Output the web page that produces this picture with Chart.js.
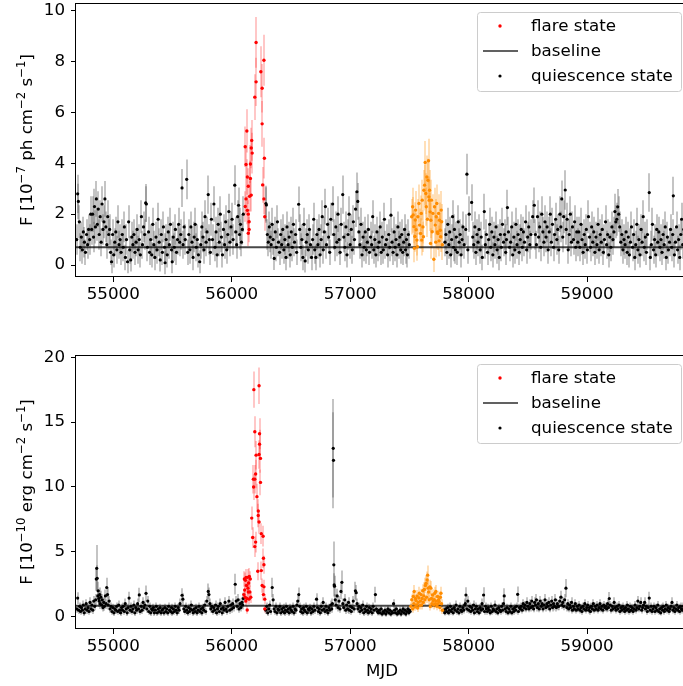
<!DOCTYPE html>
<html><head><meta charset="utf-8">
<script src="https://cdn.jsdelivr.net/npm/chart.js@4.4.0/dist/chart.umd.min.js"></script>
<style>
html,body{margin:0;padding:0;overflow:hidden;background:#fff;width:683px;height:686px}
#wrap{position:relative;width:683px;height:686px;overflow:hidden;background:#fff}
canvas{position:absolute;left:0}
</style></head><body>
<div id="wrap">
<canvas id="c1" width="690" height="310" style="top:0px"></canvas>
<canvas id="c2" width="690" height="346" style="top:340px"></canvas>
</div>
<script>
// ---------- axis ticks ----------
const xTicks = [55000, 56000, 57000, 58000, 59000];
const topYTicks = [0, 2, 4, 6, 8, 10];
const botYTicks = [0, 5, 10, 15, 20];
const topBaseline = 0.70;
const botBaseline = 0.85;

// ---------- TOP PANEL: photon flux ----------
const topMjd = [
54692,54700,54706,54714,54722,54731,54740,54748,54757,54766,
54775,54784,54792,54801,54810,54818,54826,54834,54842,54850,
54858,54866,54874,54882,54890,54898,54906,54914,54922,54930,
54938,54946,54954,54962,54970,54978,54986,54995,55004,55013,
55022,55031,55040,55049,55058,55067,55076,55085,55094,55103,
55112,55121,55130,55139,55148,55157,55166,55175,55184,55193,
55202,55211,55220,55229,55238,55247,55256,55265,55274,55280,
55289,55298,55307,55316,55325,55334,55343,55352,55361,55370,
55379,55388,55397,55406,55415,55424,55433,55438,55447,55456,
55465,55474,55483,55492,55498,55507,55516,55525,55534,55543,
55552,55561,55570,55581,55590,55599,55608,55620,55629,55638,
55647,55656,55665,55674,55683,55692,55701,55710,55719,55730,
55739,55748,55757,55766,55775,55784,55792,55802,55811,55820,
55829,55838,55850,55859,55868,55877,55886,55895,55904,55913,
55922,55931,55940,55949,55958,55967,55976,55985,55994,56003,
56012,56026,56034,56042,56050,56058,56066,56074,56082,56090,
56098,56289,56293,56301,56309,56317,56325,56333,56341,56350,
56359,56368,56377,56386,56395,56404,56413,56422,56431,56440,
56449,56458,56467,56476,56485,56494,56503,56512,56521,56530,
56539,56548,56565,56574,56583,56592,56601,56610,56620,56629,
56638,56647,56656,56665,56674,56683,56692,56701,56710,56719,
56728,56737,56746,56755,56764,56773,56782,56791,56800,56809,
56818,56827,56836,56852,56861,56870,56879,56888,56897,56906,
56915,56924,56937,56946,56955,56964,56973,56982,56991,57000,
57009,57018,57027,57036,57045,57057,57064,57073,57082,57091,
57100,57109,57118,57127,57136,57145,57154,57163,57172,57181,
57190,57199,57208,57217,57226,57235,57244,57253,57262,57271,
57280,57289,57298,57307,57316,57325,57334,57344,57353,57362,
57371,57379,57387,57395,57403,57411,57419,57427,57435,57443,
57451,57459,57467,57475,57483,57491,57499,57800,57808,57816,
57824,57832,57840,57848,57856,57864,57872,57880,57888,57896,
57904,57912,57920,57928,57936,57944,57952,57962,57985,57975,
57993,58004,58025,58034,58043,58052,58061,58070,58079,58088,
58097,58106,58115,58132,58141,58150,58159,58168,58177,58186,
58195,58204,58213,58222,58231,58240,58249,58258,58267,58276,
58285,58294,58303,58312,58319,58327,58336,58345,58354,58363,
58372,58381,58390,58399,58408,58417,58426,58435,58444,58453,
58462,58471,58480,58489,58498,58507,58516,58525,58540,58554,
58563,58572,58581,58590,58599,58608,58617,58626,58635,58644,
58653,58662,58671,58680,58689,58698,58707,58716,58725,58734,
58744,58752,58760,58770,58778,58786,58794,58802,58815,58823,
58831,58840,58849,58858,58867,58876,58885,58894,58903,58912,
58921,58930,58939,58948,58957,58966,58975,58984,58993,59002,
59011,59020,59029,59038,59047,59056,59065,59074,59083,59092,
59101,59110,59119,59128,59137,59146,59155,59164,59173,59182,
59191,59200,59209,59218,59226,59234,59242,59250,59258,59266,
59275,59284,59293,59302,59311,59320,59329,59338,59347,59356,
59365,59374,59383,59392,59401,59410,59419,59428,59437,59446,
59455,59464,59473,59482,59491,59500,59524,59509,59533,59542,
59551,59560,59569,59578,59587,59596,59605,59614,59623,59632,
59641,59650,59659,59668,59677,59686,59695,59704,59727,59713,
59722,59736,59745,59754,59763,59772,59797,59781,59790,59806,
59815,59824,59833,59840,59846,59850,59829
];
const topFlux = [
1.0,2.8,2.5,1.7,0.7,1.1,0.6,1.3,0.9,0.5,
1.2,0.8,1.4,1.0,2.0,1.4,2.0,1.1,2.3,1.5,
2.6,1.6,2.2,1.2,1.9,0.9,2.4,1.4,1.7,2.6,
1.5,0.8,1.9,1.2,1.4,0.5,0.13,1.2,0.4,0.9,
1.3,0.6,1.7,0.8,1.0,0.5,1.2,0.7,1.5,0.3,
1.0,0.13,1.7,0.6,0.2,1.1,0.8,1.2,0.5,0.9,
1.4,0.6,1.0,0.4,1.9,0.8,1.5,1.2,2.44,2.4,
0.7,1.3,0.5,1.0,0.4,1.6,0.8,0.3,1.1,0.6,
1.8,0.9,0.2,1.2,0.5,1.5,0.7,0.09,1.0,0.4,
1.3,0.8,1.6,0.6,0.13,1.1,0.7,1.4,0.5,1.0,
1.6,0.9,1.2,3.03,0.8,1.5,1.0,3.37,0.5,1.2,
0.6,1.5,0.9,0.3,1.1,1.6,0.7,1.0,0.4,0.13,
0.8,1.5,1.1,0.6,1.9,0.9,1.3,2.77,1.0,0.5,
1.8,1.0,2.4,0.7,1.3,0.4,1.6,0.9,2.0,1.1,
0.4,1.4,0.8,1.7,0.6,1.2,2.1,0.9,1.5,1.8,
1.0,3.14,1.3,0.8,1.9,2.35,1.2,1.6,0.9,1.4,
2.0,2.42,2.36,1.2,0.9,1.5,1.1,0.8,1.6,1.0,
0.26,1.3,0.7,1.7,0.9,0.5,1.2,0.8,1.4,0.6,
1.0,0.3,1.5,0.8,1.1,0.4,1.3,0.7,1.6,0.9,
1.2,0.5,2.39,1.4,0.7,1.0,0.3,1.6,0.16,0.9,
1.2,0.6,1.4,0.8,0.3,1.0,1.8,0.6,0.3,1.2,
0.8,1.4,0.4,1.0,1.9,0.6,1.3,2.3,0.8,1.6,
1.1,0.5,1.8,2.4,1.2,0.7,1.5,0.9,2.0,1.0,
0.5,1.6,2.77,1.1,0.7,1.5,0.4,1.2,2.0,0.8,
1.4,0.6,1.7,1.0,2.2,2.88,2.5,1.3,0.8,1.6,
0.4,1.1,0.7,1.3,0.6,0.9,1.4,0.5,1.1,0.8,
1.9,0.6,1.0,0.4,1.3,0.7,0.9,1.5,0.5,1.1,
0.6,1.8,0.8,1.0,0.4,1.2,0.7,1.96,0.9,0.5,
1.3,0.7,1.0,0.4,1.5,0.8,1.1,0.6,1.2,0.5,
0.9,1.4,0.6,1.0,0.4,1.2,0.8,0.9,1.2,0.5,
1.6,0.8,1.3,0.4,1.0,1.9,0.7,1.4,0.6,1.1,
0.5,1.7,0.9,1.2,0.4,1.0,1.5,0.8,3.57,1.4,
0.6,2.0,2.46,1.1,0.8,1.5,0.5,1.2,0.9,1.4,
0.6,1.1,0.3,2.1,0.8,1.2,0.5,1.0,1.6,0.7,
1.3,0.4,1.1,0.8,1.5,0.6,1.0,0.3,1.2,0.7,
1.6,0.9,1.2,0.5,1.0,2.26,1.3,0.7,0.9,1.5,
0.4,1.1,0.6,1.6,0.8,1.2,0.5,1.0,1.4,0.7,
1.3,0.9,1.7,0.6,1.1,1.5,0.8,1.2,1.9,2.35,
1.2,0.8,1.9,1.1,1.5,0.7,2.0,1.3,0.9,1.7,
1.1,1.5,0.6,1.3,2.0,0.9,1.6,0.7,1.2,1.8,
1.0,1.4,0.6,2.0,1.5,2.6,1.1,1.9,2.95,1.4,
1.8,0.6,1.2,2.0,0.9,1.5,1.0,1.7,0.7,1.3,
0.9,1.3,0.7,1.6,1.0,0.5,1.2,0.8,1.4,0.6,
1.9,1.1,0.7,1.5,0.9,1.3,0.5,1.1,0.8,1.6,
0.6,1.2,0.9,1.4,0.5,1.0,1.7,0.8,1.2,0.4,
1.1,0.7,1.5,1.0,1.3,2.1,1.7,1.8,2.29,2.0,
1.5,0.9,1.2,0.6,1.0,0.8,1.3,0.5,1.1,0.4,
0.9,1.5,0.7,1.2,0.3,0.8,1.6,0.6,1.0,0.4,
1.4,0.9,1.9,0.7,1.1,0.5,2.85,1.2,0.3,0.8,
1.6,0.6,1.0,0.4,1.4,0.9,1.3,0.7,1.0,0.5,
1.2,0.8,1.5,0.3,1.1,0.6,0.9,1.4,2.72,0.7,
1.2,0.4,0.9,1.5,0.6,1.0,1.8,0.3,1.2,0.8,
1.4,0.6,1.0,0.5,1.3,0.8,1.1
];
const topErr = [
0.6,0.75,0.7,0.65,0.55,0.6,0.55,0.6,0.6,0.5,
0.6,0.55,0.6,0.6,0.7,0.6,0.7,0.6,0.7,0.65,
0.7,0.65,0.7,0.6,0.65,0.55,0.7,0.6,0.65,0.7,
0.6,0.55,0.65,0.6,0.6,0.5,0.45,0.6,0.5,0.55,
0.6,0.55,0.65,0.55,0.6,0.5,0.6,0.55,0.6,0.5,
0.6,0.45,0.65,0.55,0.45,0.6,0.55,0.6,0.5,0.55,
0.6,0.55,0.6,0.5,0.65,0.55,0.6,0.6,0.75,0.7,
0.55,0.6,0.5,0.6,0.5,0.65,0.55,0.5,0.6,0.55,
0.65,0.55,0.45,0.6,0.5,0.6,0.55,0.45,0.6,0.5,
0.6,0.55,0.65,0.55,0.45,0.6,0.55,0.6,0.5,0.6,
0.65,0.55,0.6,0.75,0.55,0.6,0.6,0.78,0.5,0.6,
0.55,0.6,0.55,0.5,0.6,0.65,0.55,0.6,0.5,0.45,
0.55,0.6,0.6,0.55,0.65,0.55,0.6,0.75,0.6,0.5,
0.65,0.6,0.7,0.55,0.6,0.5,0.65,0.55,0.7,0.6,
0.5,0.6,0.55,0.65,0.55,0.6,0.7,0.55,0.6,0.65,
0.6,0.78,0.6,0.55,0.65,0.7,0.6,0.65,0.55,0.6,
0.7,0.7,0.7,0.6,0.55,0.6,0.6,0.55,0.65,0.6,
0.45,0.6,0.55,0.65,0.55,0.5,0.6,0.55,0.6,0.55,
0.6,0.5,0.6,0.55,0.6,0.5,0.6,0.55,0.65,0.55,
0.6,0.5,0.7,0.6,0.55,0.6,0.5,0.65,0.45,0.55,
0.6,0.55,0.6,0.55,0.5,0.6,0.65,0.55,0.5,0.6,
0.55,0.6,0.5,0.6,0.65,0.55,0.6,0.7,0.55,0.65,
0.6,0.5,0.65,0.7,0.6,0.55,0.6,0.55,0.7,0.6,
0.5,0.65,0.75,0.6,0.55,0.6,0.5,0.6,0.7,0.55,
0.6,0.55,0.65,0.6,0.7,0.76,0.72,0.6,0.55,0.65,
0.5,0.6,0.55,0.6,0.55,0.55,0.6,0.5,0.6,0.55,
0.65,0.55,0.6,0.5,0.6,0.55,0.55,0.6,0.5,0.6,
0.55,0.65,0.55,0.6,0.5,0.6,0.55,0.68,0.55,0.5,
0.6,0.55,0.6,0.5,0.6,0.55,0.6,0.55,0.6,0.5,
0.55,0.6,0.55,0.6,0.5,0.6,0.55,0.55,0.6,0.5,
0.65,0.55,0.6,0.5,0.6,0.65,0.55,0.6,0.55,0.6,
0.5,0.65,0.55,0.6,0.5,0.6,0.6,0.55,0.8,0.6,
0.55,0.7,0.72,0.6,0.55,0.6,0.5,0.6,0.55,0.6,
0.55,0.6,0.5,0.7,0.55,0.6,0.5,0.6,0.65,0.55,
0.6,0.5,0.6,0.55,0.6,0.55,0.6,0.5,0.6,0.55,
0.65,0.55,0.6,0.5,0.6,0.7,0.6,0.55,0.55,0.6,
0.5,0.6,0.55,0.65,0.55,0.6,0.5,0.6,0.6,0.55,
0.6,0.55,0.65,0.55,0.6,0.6,0.55,0.6,0.65,0.7,
0.6,0.55,0.65,0.6,0.6,0.55,0.7,0.6,0.55,0.65,
0.6,0.6,0.55,0.6,0.7,0.55,0.65,0.55,0.6,0.65,
0.6,0.6,0.55,0.7,0.6,0.72,0.6,0.65,0.78,0.6,
0.65,0.55,0.6,0.7,0.55,0.6,0.6,0.65,0.55,0.6,
0.55,0.6,0.55,0.65,0.6,0.5,0.6,0.55,0.6,0.55,
0.65,0.6,0.55,0.6,0.55,0.6,0.5,0.6,0.55,0.65,
0.55,0.6,0.55,0.6,0.5,0.6,0.65,0.55,0.6,0.5,
0.6,0.55,0.6,0.6,0.6,0.7,0.65,0.65,0.7,0.7,
0.6,0.55,0.6,0.55,0.6,0.55,0.6,0.5,0.6,0.5,
0.55,0.6,0.55,0.6,0.5,0.55,0.65,0.55,0.6,0.5,
0.6,0.55,0.65,0.55,0.6,0.5,0.76,0.6,0.5,0.55,
0.65,0.55,0.6,0.5,0.6,0.55,0.6,0.55,0.6,0.5,
0.6,0.55,0.6,0.5,0.6,0.55,0.55,0.6,0.75,0.55,
0.6,0.5,0.55,0.6,0.55,0.6,0.65,0.5,0.6,0.55,
0.6,0.55,0.6,0.5,0.6,0.55,0.6
];
const topFlareMjd  = [56114,56114,56121,56121,56128,56132,56132,56140,56140,56147,56147,56140,56151,56158,56158,56165,56169,56165,56173,56195,56206,56206,56246,56257,56272,56257,56276,56261,56272,56279];
const topFlareFlux = [4.65,2.3,3.95,2.6,5.27,3.46,2.15,3.1,2.0,1.7,1.4,1.25,2.7,3.4,3.97,4.6,4.9,2.75,4.4,6.6,7.2,8.75,7.6,6.95,8.05,5.55,4.2,3.15,2.6,1.9];
const topFlareErr  = [0.8,0.6,0.75,0.6,0.85,0.7,0.55,0.7,0.55,0.5,0.5,0.5,0.6,0.7,0.75,0.8,0.8,0.65,0.8,0.9,0.95,1.0,1.0,0.95,1.0,0.9,0.8,0.7,0.6,0.55];
const topSecondMjd  = [57519,57527,57532,57538,57542,57546,57549,57552,57557,57563,57568,57571,57580,57586,57594,57600,57604,57608,57614,57618,57622,57628,57633,57638,57642,57647,57652,57656,57661,57664,57667,57670,57675,57678,57681,57686,57692,57698,57706,57712,57718,57722,57726,57731,57736,57740,57746,57750,57754,57760,57763,57768,57772,57778];
const topSecondFlux = [1.9,2.29,1.97,1.51,0.66,1.12,1.77,2.16,1.39,0.98,0.72,1.9,2.42,1.57,1.24,2.03,0.98,2.55,1.5,1.11,2.94,3.14,4.03,2.81,2.29,3.46,1.8,3.33,4.1,2.68,2.55,2.94,2.09,0.85,1.76,2.55,1.31,2.03,0.23,2.29,1.57,0.9,1.9,2.42,1.3,1.24,2.03,0.95,1.76,1.37,1.11,2.16,1.7,0.8];
const topSecondErr  = [0.7,0.75,0.7,0.65,0.55,0.6,0.7,0.75,0.65,0.6,0.55,0.7,0.75,0.65,0.6,0.7,0.6,0.8,0.65,0.6,0.8,0.8,0.85,0.8,0.75,0.85,0.7,0.85,0.86,0.8,0.8,0.8,0.75,0.6,0.7,0.8,0.65,0.75,0.5,0.75,0.7,0.6,0.7,0.75,0.65,0.65,0.75,0.6,0.7,0.65,0.6,0.75,0.7,0.6];

// ---------- BOTTOM PANEL: energy flux ----------
const botMjd = [
54692,54700,54708,54716,54724,54732,54740,54748,54756,54764,
54772,54780,54788,54796,54804,54812,54820,54828,54836,54844,
54852,54857,54861,54865,54870,54874,54878,54882,54886,54890,
54896,54902,54908,54914,54920,54926,54934,54940,54945,54952,
54958,54966,54974,54982,54990,54998,55006,55014,55022,55030,
55038,55046,55054,55062,55070,55078,55086,55094,55102,55110,
55118,55126,55134,55142,55150,55158,55166,55174,55182,55190,
55198,55206,55214,55220,55228,55236,55244,55252,55260,55268,
55277,55284,55292,55300,55308,55316,55324,55332,55340,55348,
55356,55364,55372,55380,55388,55396,55404,55412,55420,55428,
55436,55444,55452,55460,55468,55476,55484,55492,55500,55508,
55516,55524,55532,55540,55548,55556,55564,55581,55588,55596,
55604,55612,55620,55628,55636,55644,55652,55660,55668,55676,
55684,55692,55700,55708,55716,55724,55732,55740,55748,55756,
55764,55772,55780,55790,55802,55808,55816,55824,55832,55840,
55848,55856,55864,55872,55880,55888,55896,55904,55912,55920,
55928,55936,55944,55952,55960,55968,55976,55984,55992,56000,
56008,56016,56030,56038,56046,56054,56062,56070,56078,56086,
56092,56098,56288,56296,56304,56312,56320,56328,56342,56350,
56358,56366,56374,56382,56390,56398,56406,56414,56422,56430,
56438,56446,56454,56462,56470,56478,56486,56494,56502,56510,
56518,56526,56534,56542,56550,56558,56566,56574,56582,56590,
56598,56606,56614,56622,56630,56638,56646,56654,56662,56670,
56678,56686,56694,56702,56716,56724,56732,56740,56748,56756,
56764,56772,56780,56788,56796,56804,56812,56820,56828,56836,
56844,56850,56857,56859,56862,56865,56868,56874,56882,56890,
56898,56906,56914,56922,56930,56938,56946,56954,56962,56970,
56978,56986,56994,57002,57010,57018,57026,57034,57044,57051,
57058,57066,57074,57082,57090,57098,57106,57114,57122,57130,
57138,57146,57154,57162,57170,57178,57186,57194,57202,57213,
57222,57230,57238,57246,57254,57262,57270,57278,57286,57294,
57302,57310,57318,57326,57334,57342,57350,57358,57366,57374,
57382,57390,57398,57406,57414,57422,57430,57438,57446,57454,
57462,57470,57478,57486,57494,57500,57506,57790,57798,57806,
57814,57822,57830,57838,57846,57854,57862,57870,57878,57886,
57894,57902,57910,57918,57926,57934,57942,57950,57958,57966,
57972,57977,57985,57993,58001,58009,58017,58025,58033,58041,
58049,58057,58065,58073,58081,58089,58097,58105,58113,58119,
58126,58134,58142,58150,58158,58166,58174,58182,58190,58198,
58206,58214,58222,58230,58238,58246,58254,58262,58270,58278,
58286,58294,58300,58308,58316,58324,58332,58340,58348,58356,
58364,58372,58380,58388,58396,58404,58413,58420,58428,58436,
58444,58452,58460,58468,58476,58484,58492,58500,58508,58516,
58524,58532,58540,58548,58556,58564,58572,58580,58588,58596,
58604,58612,58620,58628,58636,58644,58652,58660,58668,58676,
58684,58692,58700,58708,58716,58724,58732,58740,58748,58754,
58760,58768,58779,58786,58794,58802,58810,58821,58828,58836,
58844,58852,58860,58868,58876,58884,58892,58900,58908,58916,
58924,58932,58940,58948,58956,58964,58972,58980,58988,58996,
59004,59012,59020,59028,59036,59044,59052,59060,59068,59076,
59084,59092,59100,59108,59116,59124,59132,59140,59148,59156,
59164,59172,59180,59187,59195,59203,59211,59219,59228,59236,
59244,59252,59260,59268,59276,59284,59292,59300,59308,59316,
59324,59332,59340,59348,59356,59364,59372,59380,59388,59396,
59404,59412,59420,59428,59436,59444,59452,59460,59468,59476,
59485,59492,59500,59508,59516,59524,59532,59540,59548,59556,
59564,59572,59580,59588,59596,59604,59612,59620,59628,59636,
59644,59652,59660,59668,59676,59684,59692,59700,59708,59716,
59724,59732,59740,59748,59756,59764,59772,59780,59788,59796,
59804,59812,59820,59828,59836,59844
];
const botFlux = [
0.6,1.43,0.5,0.8,0.4,0.7,0.5,0.9,0.3,0.6,
1.0,0.5,0.7,0.4,1.1,0.6,0.9,0.5,1.2,0.8,
1.3,2.9,3.73,2.96,1.6,2.0,1.4,1.2,1.7,1.0,
1.5,0.9,1.3,0.7,1.1,0.8,1.6,1.0,2.25,1.7,
0.9,1.2,0.6,0.8,0.4,0.7,0.3,0.6,0.5,0.8,
0.4,0.9,0.5,0.3,0.7,0.5,0.8,0.4,1.0,0.6,
0.3,0.7,1.43,0.5,0.8,0.4,0.6,0.9,0.3,0.7,
0.5,1.0,0.6,1.68,0.4,0.8,0.5,1.1,0.7,0.9,
1.8,0.6,1.2,0.4,0.8,0.3,0.6,0.5,0.7,0.3,
0.5,0.8,0.3,0.6,0.4,0.7,0.3,0.5,0.6,0.3,
0.7,0.4,0.6,0.3,0.8,0.5,0.4,0.7,0.3,0.6,
0.4,0.8,0.5,0.3,0.7,0.5,1.0,1.65,1.35,0.6,
0.4,0.8,0.5,0.3,0.7,0.4,0.6,0.9,0.5,0.3,
0.6,0.4,0.7,0.3,0.5,0.8,0.4,0.6,0.3,0.7,
0.5,0.9,0.4,1.2,1.95,1.7,1.0,0.6,0.8,0.4,
0.7,0.5,0.9,0.3,0.6,0.8,0.4,1.0,0.6,0.3,
0.7,0.5,1.1,0.6,0.4,0.8,1.2,0.5,0.9,0.6,
1.0,0.7,2.5,1.2,0.8,1.3,0.6,1.0,0.7,1.1,
0.9,1.4,0.5,0.8,0.3,0.6,0.9,0.4,2.25,1.3,
0.6,0.4,0.8,0.3,0.6,0.5,0.8,0.3,0.6,0.4,
0.7,0.3,0.5,0.8,0.4,0.6,0.3,0.7,0.5,0.4,
0.8,0.3,0.6,0.5,0.9,1.2,1.7,0.8,0.4,0.6,
0.3,0.7,0.5,0.4,0.8,0.3,0.6,0.5,0.7,0.3,
0.6,0.4,0.8,0.5,1.35,0.7,0.4,0.6,0.3,0.8,
0.5,1.1,0.6,0.4,0.8,0.5,0.3,0.7,0.5,0.9,
0.6,1.0,12.98,12.05,4.0,2.45,2.35,1.3,0.9,1.6,
0.7,1.2,0.6,1.95,2.65,1.0,0.7,1.3,0.5,0.9,
0.6,1.1,0.5,0.8,0.4,0.7,1.2,0.6,2.0,1.85,
1.0,0.6,0.8,0.4,0.7,0.5,0.9,0.3,0.6,0.4,
0.8,0.5,0.3,0.7,0.4,0.6,0.3,0.8,0.5,1.7,
0.6,0.4,0.3,0.5,0.3,0.6,0.2,0.4,0.3,0.5,
0.2,0.4,0.6,0.3,0.5,0.2,0.4,0.3,1.0,0.5,
0.3,0.6,0.2,0.4,0.3,0.5,0.2,0.4,0.6,0.3,
0.5,0.2,0.4,0.6,0.3,0.5,0.4,0.5,0.3,0.6,
0.4,0.7,0.3,0.5,0.8,0.4,0.6,0.3,0.7,0.5,
0.9,0.4,0.6,0.3,0.8,0.5,0.4,0.7,0.5,0.9,
1.0,1.67,0.6,1.2,0.5,0.8,0.4,0.7,0.5,0.9,
0.3,0.6,0.8,0.4,0.6,0.3,0.7,0.5,1.0,0.6,
1.67,0.4,0.8,0.6,0.4,0.7,0.5,0.3,0.8,0.4,
0.6,0.5,0.9,0.4,0.6,0.3,0.7,0.5,0.4,0.8,
0.5,1.0,1.6,0.6,0.4,0.7,0.3,0.6,0.4,0.8,
0.3,0.6,0.4,0.7,0.5,0.8,1.72,0.4,0.7,0.6,
0.8,0.5,1.0,0.7,0.9,0.6,1.1,0.8,0.6,1.0,
0.7,1.2,0.8,0.6,1.1,0.9,1.3,0.7,1.0,0.6,
1.2,0.8,1.0,0.6,0.9,1.3,0.7,1.0,0.8,1.1,
0.6,0.9,1.2,0.7,1.0,0.8,1.3,0.7,1.0,0.8,
0.8,1.2,1.5,0.9,1.1,0.8,1.3,2.2,0.7,1.0,
0.6,0.9,0.7,1.1,0.5,0.8,0.6,1.0,0.5,0.8,
0.6,0.9,0.5,0.7,0.4,0.8,0.6,1.0,0.5,0.7,
0.9,0.5,0.7,0.4,0.8,0.6,1.0,0.5,0.8,0.6,
0.9,0.5,0.7,1.0,0.6,0.8,0.5,0.9,0.7,0.8,
0.6,1.0,0.7,1.4,0.9,0.5,0.8,0.6,1.1,0.7,
0.5,0.8,0.6,0.9,0.4,0.7,0.5,0.8,0.6,0.4,
0.7,0.5,0.9,0.6,0.4,0.8,0.5,0.7,0.4,0.6,
0.9,0.5,0.7,1.2,0.6,0.8,1.1,0.5,0.7,0.9,
1.1,0.6,0.8,0.4,0.7,1.43,0.5,0.8,0.4,0.6,
0.8,0.4,0.7,0.5,0.9,0.4,0.6,0.3,0.7,0.5,
0.8,0.4,0.6,0.9,0.5,0.7,0.4,0.6,0.8,1.1,
0.5,0.7,0.4,0.6,0.9,0.5,0.7,0.4,0.8,0.6,
0.5,0.8,0.4,0.7,0.5,0.6
];
const botErr = [
0.3,0.45,0.3,0.3,0.25,0.3,0.3,0.35,0.25,0.3,
0.35,0.3,0.3,0.25,0.4,0.3,0.35,0.3,0.4,0.3,
0.45,0.9,1.8,1.0,0.5,0.7,0.5,0.45,0.55,0.4,
0.5,0.35,0.45,0.3,0.4,0.35,0.5,0.4,0.75,0.55,
0.35,0.4,0.3,0.3,0.25,0.3,0.25,0.3,0.3,0.3,
0.25,0.35,0.3,0.25,0.3,0.3,0.3,0.25,0.4,0.3,
0.25,0.3,0.5,0.3,0.3,0.25,0.3,0.35,0.25,0.3,
0.3,0.4,0.3,0.55,0.25,0.3,0.3,0.4,0.3,0.35,
0.6,0.3,0.4,0.25,0.3,0.25,0.3,0.3,0.3,0.25,
0.3,0.3,0.25,0.3,0.25,0.3,0.25,0.3,0.3,0.25,
0.3,0.25,0.3,0.25,0.3,0.3,0.25,0.3,0.25,0.3,
0.25,0.3,0.3,0.25,0.3,0.3,0.4,0.55,0.45,0.3,
0.25,0.3,0.3,0.25,0.3,0.25,0.3,0.35,0.3,0.25,
0.3,0.25,0.3,0.25,0.3,0.3,0.25,0.3,0.25,0.3,
0.3,0.35,0.25,0.4,0.6,0.55,0.4,0.3,0.3,0.25,
0.3,0.3,0.35,0.25,0.3,0.3,0.25,0.4,0.3,0.25,
0.3,0.3,0.4,0.3,0.25,0.3,0.4,0.3,0.35,0.3,
0.4,0.3,0.8,0.4,0.3,0.45,0.3,0.4,0.3,0.4,
0.35,0.45,0.3,0.3,0.25,0.3,0.35,0.25,0.75,0.45,
0.3,0.25,0.3,0.25,0.3,0.3,0.3,0.25,0.3,0.25,
0.3,0.25,0.3,0.3,0.25,0.3,0.25,0.3,0.3,0.25,
0.3,0.25,0.3,0.3,0.35,0.4,0.55,0.3,0.25,0.3,
0.25,0.3,0.3,0.25,0.3,0.25,0.3,0.3,0.3,0.25,
0.3,0.25,0.3,0.3,0.45,0.3,0.25,0.3,0.25,0.3,
0.3,0.4,0.3,0.25,0.3,0.3,0.25,0.3,0.3,0.35,
0.3,0.4,3.8,3.7,1.8,0.9,0.8,0.45,0.35,0.55,
0.3,0.4,0.3,0.6,0.9,0.4,0.3,0.45,0.3,0.35,
0.3,0.4,0.3,0.3,0.25,0.3,0.4,0.3,0.7,0.6,
0.4,0.3,0.3,0.25,0.3,0.3,0.35,0.25,0.3,0.25,
0.3,0.3,0.25,0.3,0.25,0.3,0.25,0.3,0.3,0.6,
0.25,0.2,0.2,0.25,0.2,0.25,0.2,0.2,0.2,0.25,
0.2,0.2,0.25,0.2,0.25,0.2,0.2,0.2,0.35,0.25,
0.2,0.25,0.2,0.2,0.2,0.25,0.2,0.2,0.25,0.2,
0.25,0.2,0.2,0.25,0.2,0.25,0.2,0.25,0.2,0.25,
0.25,0.3,0.2,0.25,0.3,0.25,0.25,0.2,0.3,0.25,
0.35,0.25,0.25,0.2,0.3,0.25,0.25,0.3,0.25,0.35,
0.4,0.6,0.3,0.4,0.25,0.3,0.25,0.3,0.25,0.35,
0.2,0.25,0.3,0.25,0.25,0.2,0.3,0.25,0.4,0.25,
0.6,0.25,0.3,0.25,0.25,0.3,0.25,0.2,0.3,0.25,
0.25,0.25,0.35,0.25,0.25,0.2,0.3,0.25,0.25,0.3,
0.25,0.4,0.6,0.25,0.25,0.3,0.2,0.25,0.25,0.3,
0.2,0.25,0.25,0.3,0.25,0.3,0.6,0.25,0.3,0.25,
0.3,0.25,0.35,0.3,0.3,0.25,0.4,0.3,0.25,0.35,
0.3,0.4,0.3,0.25,0.4,0.3,0.45,0.3,0.35,0.25,
0.4,0.3,0.35,0.25,0.3,0.45,0.3,0.35,0.3,0.4,
0.25,0.3,0.4,0.3,0.35,0.3,0.45,0.3,0.35,0.3,
0.3,0.4,0.5,0.3,0.4,0.3,0.45,0.7,0.3,0.35,
0.25,0.3,0.3,0.4,0.25,0.3,0.25,0.35,0.25,0.3,
0.25,0.3,0.25,0.3,0.25,0.3,0.25,0.35,0.25,0.3,
0.3,0.25,0.3,0.25,0.3,0.25,0.35,0.25,0.3,0.25,
0.3,0.25,0.3,0.35,0.25,0.3,0.25,0.3,0.3,0.3,
0.25,0.35,0.3,0.5,0.3,0.25,0.3,0.25,0.4,0.3,
0.25,0.3,0.25,0.3,0.25,0.3,0.25,0.3,0.25,0.25,
0.3,0.25,0.3,0.25,0.25,0.3,0.25,0.3,0.25,0.25,
0.3,0.25,0.3,0.4,0.25,0.3,0.4,0.25,0.3,0.3,
0.4,0.25,0.3,0.25,0.3,0.5,0.25,0.3,0.25,0.25,
0.3,0.25,0.3,0.25,0.3,0.25,0.25,0.2,0.3,0.25,
0.3,0.25,0.25,0.3,0.25,0.3,0.25,0.25,0.3,0.4,
0.25,0.3,0.25,0.25,0.3,0.25,0.3,0.25,0.3,0.25,
0.25,0.3,0.25,0.3,0.25,0.25
];
const botFlareMjd  = [56103,56107,56110,56113,56116,56119,56122,56125,56128,56131,56134,56137,56140,56143,56146,56149,56153,56157,56161,56169,56177,56183,56185,56187,56195,56195,56195,56202,56202,56206,56213,56224,56224,56220,56231,56231,56231,56235,56235,56243,56243,56250,56250,56265,56257,56272,56268,56272,56268,56279,56279];
const botFlareFlux = [1.7,2.9,2.06,1.5,2.8,1.2,3.03,2.4,1.4,0.52,3.03,2.2,1.9,2.6,1.35,3.1,1.9,2.9,1.5,7.6,6.1,10.6,10.0,17.5,14.25,10.6,5.4,11.0,5.75,12.45,9.25,8.15,7.8,3.5,17.8,12.5,7.3,14.1,13.3,12.2,10.35,6.4,3.55,6.2,2.4,4.0,4.5,2.3,1.7,1.35,0.6];
const botFlareErr  = [0.4,0.6,0.5,0.45,0.6,0.4,0.65,0.55,0.4,0.3,0.65,0.5,0.5,0.55,0.4,0.65,0.5,0.6,0.45,0.9,0.8,1.1,1.0,1.4,1.2,1.1,0.8,1.1,0.8,1.1,1.0,0.9,0.9,0.7,1.4,1.1,0.9,1.2,1.1,1.1,1.0,0.8,0.7,0.8,0.55,0.7,0.75,0.55,0.45,0.4,0.3];
const botSecondMjd  = [57513,57520,57527,57533,57537,57541,57546,57551,57555,57560,57565,57569,57574,57579,57583,57588,57593,57598,57602,57607,57612,57617,57621,57626,57631,57635,57640,57645,57650,57654,57658,57662,57667,57672,57676,57681,57686,57690,57695,57700,57705,57709,57714,57719,57723,57728,57732,57737,57742,57746,57751,57756,57761,57766,57771,57779];
const botSecondFlux = [0.8,1.3,0.6,1.55,1.0,1.94,0.75,1.4,1.25,0.9,1.6,0.67,1.1,1.45,1.8,0.85,1.2,1.7,0.9,1.4,2.0,1.1,1.6,2.1,1.3,2.4,2.57,1.5,2.83,3.2,2.2,1.9,1.3,2.3,0.78,2.2,1.4,1.0,1.67,1.2,0.9,1.3,1.8,1.0,1.94,1.2,0.8,1.55,1.0,1.3,1.17,0.7,1.5,1.8,1.0,0.5];
const botSecondErr  = [0.3,0.4,0.3,0.45,0.35,0.5,0.3,0.4,0.4,0.35,0.45,0.3,0.35,0.4,0.5,0.3,0.4,0.45,0.35,0.4,0.5,0.35,0.45,0.55,0.4,0.6,0.6,0.45,0.65,0.75,0.55,0.5,0.4,0.55,0.3,0.55,0.4,0.35,0.45,0.4,0.35,0.4,0.5,0.35,0.5,0.4,0.3,0.45,0.35,0.4,0.4,0.3,0.45,0.5,0.35,0.3];

// axis label pieces (normal text / superscript)
const topYLabel = [['F [10', 0], ['\u22127', 1], [' ph cm', 0], ['\u22122', 1], [' s', 0], ['\u22121', 1], [']', 0]];
const botYLabel = [['F [10', 0], ['\u221210', 1], [' erg cm', 0], ['\u22122', 1], [' s', 0], ['\u22121', 1], [']', 0]];

// ---------- helpers ----------
const X_MIN = 54686, X_MAX = 59851;
const FS = 16.7;
const FONT = "'DejaVu Sans', sans-serif";
Chart.defaults.font.family = FONT;
Chart.defaults.font.size = FS;
Chart.defaults.color = '#000';

function pts(xs, ys) {
  const n = Math.min(xs.length, ys.length), a = [];
  for (let i = 0; i < n; i++) a.push({x: xs[i], y: ys[i]});
  return a;
}

const errorBars = {
  id: 'errorBars',
  beforeDatasetsDraw(chart) {
    const {ctx, chartArea: a, scales: {x, y}} = chart;
    ctx.save();
    ctx.beginPath(); ctx.rect(a.left, a.top, a.right - a.left, a.bottom - a.top); ctx.clip();
    ctx.lineWidth = 2; ctx.lineCap = 'butt';
    const list = chart.data.datasets.filter(d => d.err).sort((p, q) => p.barZ - q.barZ);
    list.forEach(ds => {
      ctx.strokeStyle = ds.barColor;
      ds.data.forEach((p, i) => {
        const e = ds.err[i]; if (e == null) return;
        const px = Math.round(x.getPixelForValue(p.x));
        ctx.beginPath();
        ctx.moveTo(px, y.getPixelForValue(p.y - e));
        ctx.lineTo(px, y.getPixelForValue(p.y + e));
        ctx.stroke();
      });
    });
    ctx.restore();
  }
};

function drawYLabel(ctx, parts, cx, cy) {
  ctx.save();
  ctx.translate(cx, cy); ctx.rotate(-Math.PI / 2);
  const big = FS + "px " + FONT, small = (FS * 0.7).toFixed(1) + "px " + FONT;
  let w = 0;
  parts.forEach(([t, s]) => { ctx.font = s ? small : big; w += ctx.measureText(t).width; });
  let x = -w / 2;
  ctx.fillStyle = '#000'; ctx.textBaseline = 'alphabetic'; ctx.textAlign = 'left';
  parts.forEach(([t, s]) => {
    ctx.font = s ? small : big;
    ctx.fillText(t, x, s ? 6 - 7 : 6);
    x += ctx.measureText(t).width;
  });
  ctx.restore();
}

const frameAndLegend = {
  id: 'frameAndLegend',
  afterDraw(chart) {
    const {ctx, chartArea: a} = chart;
    const o = chart.options.plugins.frameAndLegend;
    ctx.save();
    ctx.strokeStyle = '#000'; ctx.lineWidth = 1;
    ctx.strokeRect(Math.round(a.left) - 0.5, Math.round(a.top) + 0.5, Math.round(a.right - a.left) + 1, Math.round(a.bottom - a.top) - 1);
    drawYLabel(ctx, o.ylabel, 26, (a.top + a.bottom) / 2);
    // legend
    const bx = 477.5, by = Math.round(a.top) + 9.5, bw = 204, bh = 79;
    ctx.beginPath();
    ctx.roundRect(bx, by, bw, bh, 3);
    ctx.fillStyle = 'rgba(255,255,255,0.8)'; ctx.fill();
    ctx.strokeStyle = '#cccccc'; ctx.lineWidth = 1; ctx.stroke();
    const items = chart.data.datasets.filter(d => !d.noLegend);
    items.forEach((d, i) => {
      const cy = by + 13.5 + i * 25;
      if (d.type === 'line') {
        ctx.strokeStyle = d.legendColor; ctx.lineWidth = 2;
        ctx.beginPath(); ctx.moveTo(483, cy); ctx.lineTo(518, cy); ctx.stroke();
      } else {
        ctx.fillStyle = d.backgroundColor;
        ctx.beginPath(); ctx.arc(500, cy, d.pointRadius, 0, Math.PI * 2); ctx.fill();
      }
      ctx.fillStyle = '#000'; ctx.font = FS + "px " + FONT;
      ctx.textBaseline = 'middle'; ctx.textAlign = 'left';
      ctx.fillText(d.label, 531, cy + 0.5);
    });
    ctx.restore();
  }
};

function makePanel(id, d) {
  const datasets = [
    {label: 'flare state', type: 'scatter', data: pts(d.fx, d.fy), err: d.fe, barZ: 3,
     barColor: 'rgba(255,0,0,0.22)', backgroundColor: '#ff0000', borderWidth: 0, pointRadius: 1.7, pointHoverRadius: 1.7, order: 0},
    {label: 'baseline', type: 'line', data: [{x: X_MIN, y: d.base}, {x: X_MAX, y: d.base}],
     borderColor: 'rgba(0,0,0,0.72)', legendColor: 'rgba(0,0,0,0.62)', borderWidth: 2, pointRadius: 0, order: 5},
    {label: 'quiescence state', type: 'scatter', data: pts(d.qx, d.qy), err: d.qe, barZ: 1,
     barColor: 'rgba(100,100,100,0.38)', backgroundColor: '#000000', borderWidth: 0, pointRadius: 1.6, pointHoverRadius: 1.6, order: 2},
    {label: 'second flare', noLegend: true, type: 'scatter', data: pts(d.ox, d.oy), err: d.oe, barZ: 2,
     barColor: 'rgba(255,140,0,0.28)', backgroundColor: '#ff8c00', borderWidth: 0, pointRadius: 1.7, pointHoverRadius: 1.7, order: 1}
  ];
  const tickGrid = {display: true, drawOnChartArea: false, drawTicks: true, tickLength: 5, color: '#000', lineWidth: 1};
  return new Chart(document.getElementById(id), {
    type: 'scatter',
    data: {datasets},
    options: {
      responsive: false, animation: false, devicePixelRatio: 1,
      layout: {autoPadding: false, padding: {left: 0, right: 2, top: d.padTop, bottom: 0}},
      plugins: {legend: {display: false}, tooltip: {enabled: false}, frameAndLegend: {ylabel: d.ylabel}},
      events: [],
      scales: {
        x: {type: 'linear', min: X_MIN, max: X_MAX,
            afterFit(s) { s.height = d.xh; s.paddingLeft = 0; s.paddingRight = 0; },
            afterBuildTicks(s) { s.ticks = xTicks.map(v => ({value: v})); },
            ticks: {autoSkip: false, maxRotation: 0, padding: 3, color: '#000', font: {size: FS}, callback: v => String(v)},
            grid: tickGrid, border: {display: false},
            title: d.xtitle ? {display: true, text: d.xtitle, color: '#000', font: {size: FS}, padding: {top: 0, bottom: 4}} : {display: false}},
        y: {type: 'linear', min: d.ymin, max: d.ymax,
            afterFit(s) { s.width = 76; s.paddingTop = 0; s.paddingBottom = 0; },
            afterBuildTicks(s) { s.ticks = d.yticks.map(v => ({value: v})); },
            ticks: {padding: 6, color: '#000', font: {size: FS}, callback: v => String(v)},
            grid: tickGrid, border: {display: false},
            title: {display: false}}
      }
    },
    plugins: [errorBars, frameAndLegend]
  });
}

makePanel('c1', {
  qx: topMjd, qy: topFlux, qe: topErr,
  fx: topFlareMjd, fy: topFlareFlux, fe: topFlareErr,
  ox: topSecondMjd, oy: topSecondFlux, oe: topSecondErr,
  base: topBaseline, ymin: -0.47, ymax: 10.3, yticks: topYTicks,
  ylabel: topYLabel, padTop: 3, xh: 33, xtitle: null
});
makePanel('c2', {
  qx: botMjd, qy: botFlux, qe: botErr,
  fx: botFlareMjd, fy: botFlareFlux, fe: botFlareErr,
  ox: botSecondMjd, oy: botSecondFlux, oe: botSecondErr,
  base: botBaseline, ymin: -0.95, ymax: 20.17, yticks: botYTicks,
  ylabel: botYLabel, padTop: 15, xh: 57, xtitle: 'MJD'
});
</script>
</body></html>
